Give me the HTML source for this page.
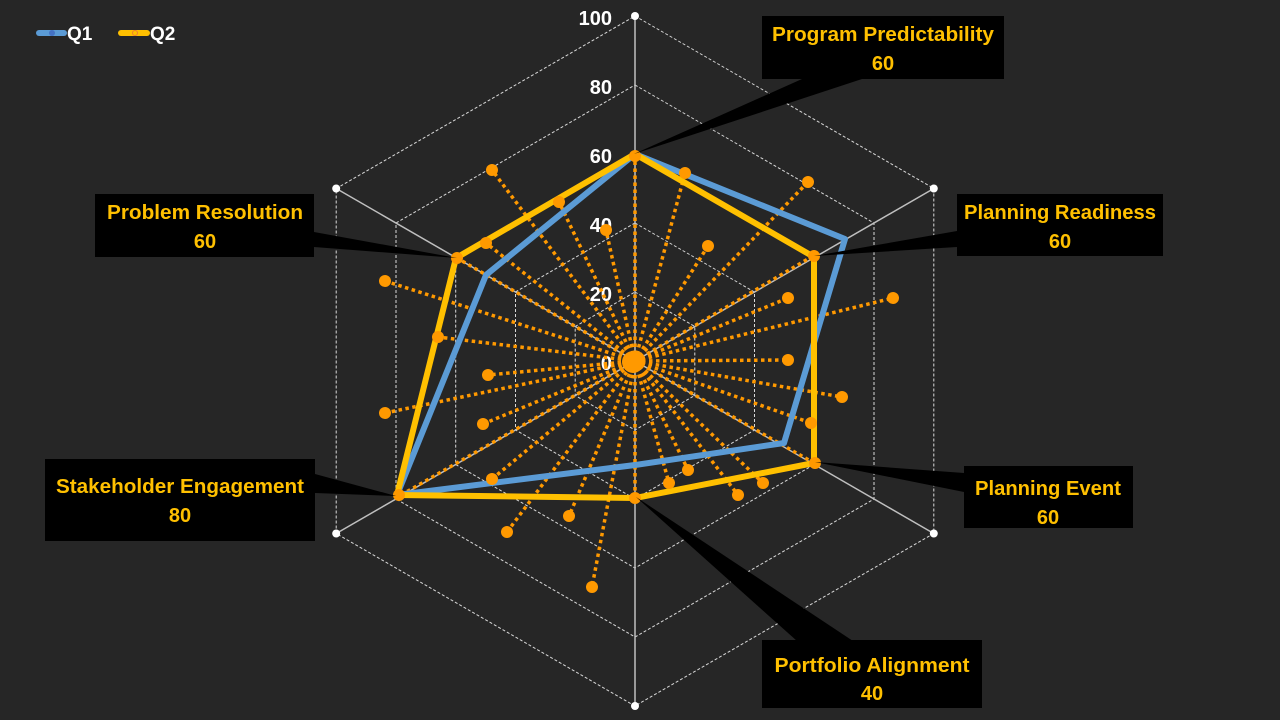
<!DOCTYPE html>
<html><head><meta charset="utf-8"><style>
html,body{margin:0;padding:0;background:#262626;}
svg{display:block;}
text{font-family:"Liberation Sans",sans-serif;font-weight:bold;}
</style></head><body>
<svg width="1280" height="720" viewBox="0 0 1280 720" xmlns="http://www.w3.org/2000/svg">
<rect width="1280" height="720" fill="#262626"/>
<!-- grid hexagons -->
<g fill="none" stroke="#d9d9d9" stroke-width="1" stroke-dasharray="3 2">
<polygon points="635,292 694.8,326.5 694.8,395.5 635,430 575.2,395.5 575.2,326.5"/>
<polygon points="635,223 754.5,292 754.5,430 635,499 515.5,430 515.5,292"/>
<polygon points="635,154 814.3,257.5 814.3,464.5 635,568 455.7,464.5 455.7,257.5"/>
<polygon points="635,85 874,223 874,499 635,637 396,499 396,223"/>
<polygon points="635,16 933.8,188.5 933.8,533.5 635,706 336.2,533.5 336.2,188.5"/>
</g>
<g stroke="#bfbfbf" stroke-width="1.5">
<line x1="635" y1="361" x2="635" y2="16"/>
<line x1="635" y1="361" x2="933.8" y2="188.5"/>
<line x1="635" y1="361" x2="933.8" y2="533.5"/>
<line x1="635" y1="361" x2="635" y2="706"/>
<line x1="635" y1="361" x2="336.2" y2="533.5"/>
<line x1="635" y1="361" x2="336.2" y2="188.5"/>
</g>
<g fill="#fff">
<circle cx="635" cy="16" r="4"/><circle cx="933.8" cy="188.5" r="4"/><circle cx="933.8" cy="533.5" r="4"/>
<circle cx="635" cy="706" r="4"/><circle cx="336.2" cy="533.5" r="4"/><circle cx="336.2" cy="188.5" r="4"/>
</g>
<g fill="#fff" font-size="20" text-anchor="end">
<text x="612" y="25">100</text><text x="612" y="94">80</text><text x="612" y="163">60</text>
<text x="612" y="232">40</text><text x="612" y="301">20</text><text x="612" y="370">0</text>
</g>
<!-- orange dotted spokes -->
<g stroke="#ff9900" stroke-width="3.5" stroke-dasharray="3.5 3.5">
<line x1="635" y1="361" x2="492" y2="170"/><line x1="635" y1="361" x2="559" y2="202"/>
<line x1="635" y1="361" x2="486" y2="243"/><line x1="635" y1="361" x2="606" y2="230"/>
<line x1="635" y1="361" x2="685" y2="173"/><line x1="635" y1="361" x2="808" y2="182"/>
<line x1="635" y1="361" x2="708" y2="246"/><line x1="635" y1="361" x2="813" y2="256"/>
<line x1="635" y1="361" x2="788" y2="298"/><line x1="635" y1="361" x2="893" y2="298"/>
<line x1="635" y1="361" x2="788" y2="360"/><line x1="635" y1="361" x2="842" y2="397"/>
<line x1="635" y1="361" x2="811" y2="423"/><line x1="635" y1="361" x2="814" y2="463"/>
<line x1="635" y1="361" x2="763" y2="483"/><line x1="635" y1="361" x2="738" y2="495"/>
<line x1="635" y1="361" x2="688" y2="470"/><line x1="635" y1="361" x2="669" y2="483"/>
<line x1="635" y1="361" x2="635" y2="498"/><line x1="635" y1="361" x2="592" y2="587"/>
<line x1="635" y1="361" x2="569" y2="516"/><line x1="635" y1="361" x2="507" y2="532"/>
<line x1="635" y1="361" x2="492" y2="479"/><line x1="635" y1="361" x2="401" y2="495"/>
<line x1="635" y1="361" x2="483" y2="424"/><line x1="635" y1="361" x2="385" y2="413"/>
<line x1="635" y1="361" x2="488" y2="375"/><line x1="635" y1="361" x2="438" y2="337"/>
<line x1="635" y1="361" x2="385" y2="281"/><line x1="635" y1="361" x2="457" y2="258"/>
<line x1="635" y1="361" x2="635" y2="156"/>
</g>
<circle cx="633" cy="362" r="11" fill="#ff9900"/>
<!-- Q1 -->
<polygon points="635,154 845,239 784,443 635,465 397,495 486,275" fill="none" stroke="#5b9bd5" stroke-width="6" stroke-linejoin="round"/>
<!-- Q2 -->
<polygon points="635,154 814,257 814,463 635,498 397,495 456,258" fill="none" stroke="#ffc000" stroke-width="6" stroke-linejoin="round"/>
<g fill="#ff9900">
<circle cx="492" cy="170" r="6"/><circle cx="559" cy="202" r="6"/><circle cx="486" cy="243" r="6"/><circle cx="606" cy="230" r="6"/>
<circle cx="685" cy="173" r="6"/><circle cx="808" cy="182" r="6"/><circle cx="708" cy="246" r="6"/><circle cx="814" cy="256" r="6"/>
<circle cx="788" cy="298" r="6"/><circle cx="893" cy="298" r="6"/><circle cx="788" cy="360" r="6"/><circle cx="842" cy="397" r="6"/>
<circle cx="811" cy="423" r="6"/><circle cx="815" cy="463" r="6"/><circle cx="763" cy="483" r="6"/><circle cx="738" cy="495" r="6"/>
<circle cx="688" cy="470" r="6"/><circle cx="669" cy="483" r="6"/><circle cx="635" cy="498" r="6"/><circle cx="592" cy="587" r="6"/>
<circle cx="569" cy="516" r="6"/><circle cx="507" cy="532" r="6"/><circle cx="492" cy="479" r="6"/><circle cx="399" cy="495" r="6"/>
<circle cx="483" cy="424" r="6"/><circle cx="385" cy="413" r="6"/><circle cx="488" cy="375" r="6"/><circle cx="438" cy="337" r="6"/>
<circle cx="385" cy="281" r="6"/><circle cx="457" cy="258" r="6"/><circle cx="635" cy="156" r="6"/>
</g>
<!-- callouts -->
<g fill="#000">
<polygon points="802,79 862,79 634,154"/><rect x="762" y="16" width="242" height="63"/>
<polygon points="957,231 957,247 814,256"/><rect x="957" y="194" width="206" height="62"/>
<polygon points="964,473 964,492 815,462"/><rect x="964" y="466" width="169" height="62"/>
<polygon points="797,641 853,641 636,497"/><rect x="762" y="640" width="220" height="68"/>
<polygon points="315,474 315,493 396,496"/><rect x="45" y="459" width="270" height="82"/>
<polygon points="314,232 314,247 457,258"/><rect x="95" y="194" width="219" height="63"/>
</g>
<g fill="#ffc000" font-size="20" text-anchor="middle">
<text x="883" y="41" textLength="222" lengthAdjust="spacingAndGlyphs">Program Predictability</text><text x="883" y="70">60</text>
<text x="1060" y="219" textLength="192" lengthAdjust="spacingAndGlyphs">Planning Readiness</text><text x="1060" y="248">60</text>
<text x="1048" y="495" textLength="146" lengthAdjust="spacingAndGlyphs">Planning Event</text><text x="1048" y="524">60</text>
<text x="872" y="672" textLength="195" lengthAdjust="spacingAndGlyphs">Portfolio Alignment</text><text x="872" y="700">40</text>
<text x="180" y="493" textLength="248" lengthAdjust="spacingAndGlyphs">Stakeholder Engagement</text><text x="180" y="522">80</text>
<text x="205" y="219" textLength="196" lengthAdjust="spacingAndGlyphs">Problem Resolution</text><text x="205" y="248">60</text>
</g>
<!-- legend -->
<line x1="39" y1="33" x2="64" y2="33" stroke="#5b9bd5" stroke-width="6" stroke-linecap="round"/>
<circle cx="52" cy="33" r="3" fill="#4472c4"/>
<text x="67" y="40" fill="#fff" font-size="19">Q1</text>
<line x1="121" y1="33" x2="147" y2="33" stroke="#ffc000" stroke-width="6" stroke-linecap="round"/>
<circle cx="135" cy="33" r="2.5" fill="none" stroke="#ed7d31" stroke-width="1"/>
<text x="150" y="40" fill="#fff" font-size="19">Q2</text>
</svg>
</body></html>
